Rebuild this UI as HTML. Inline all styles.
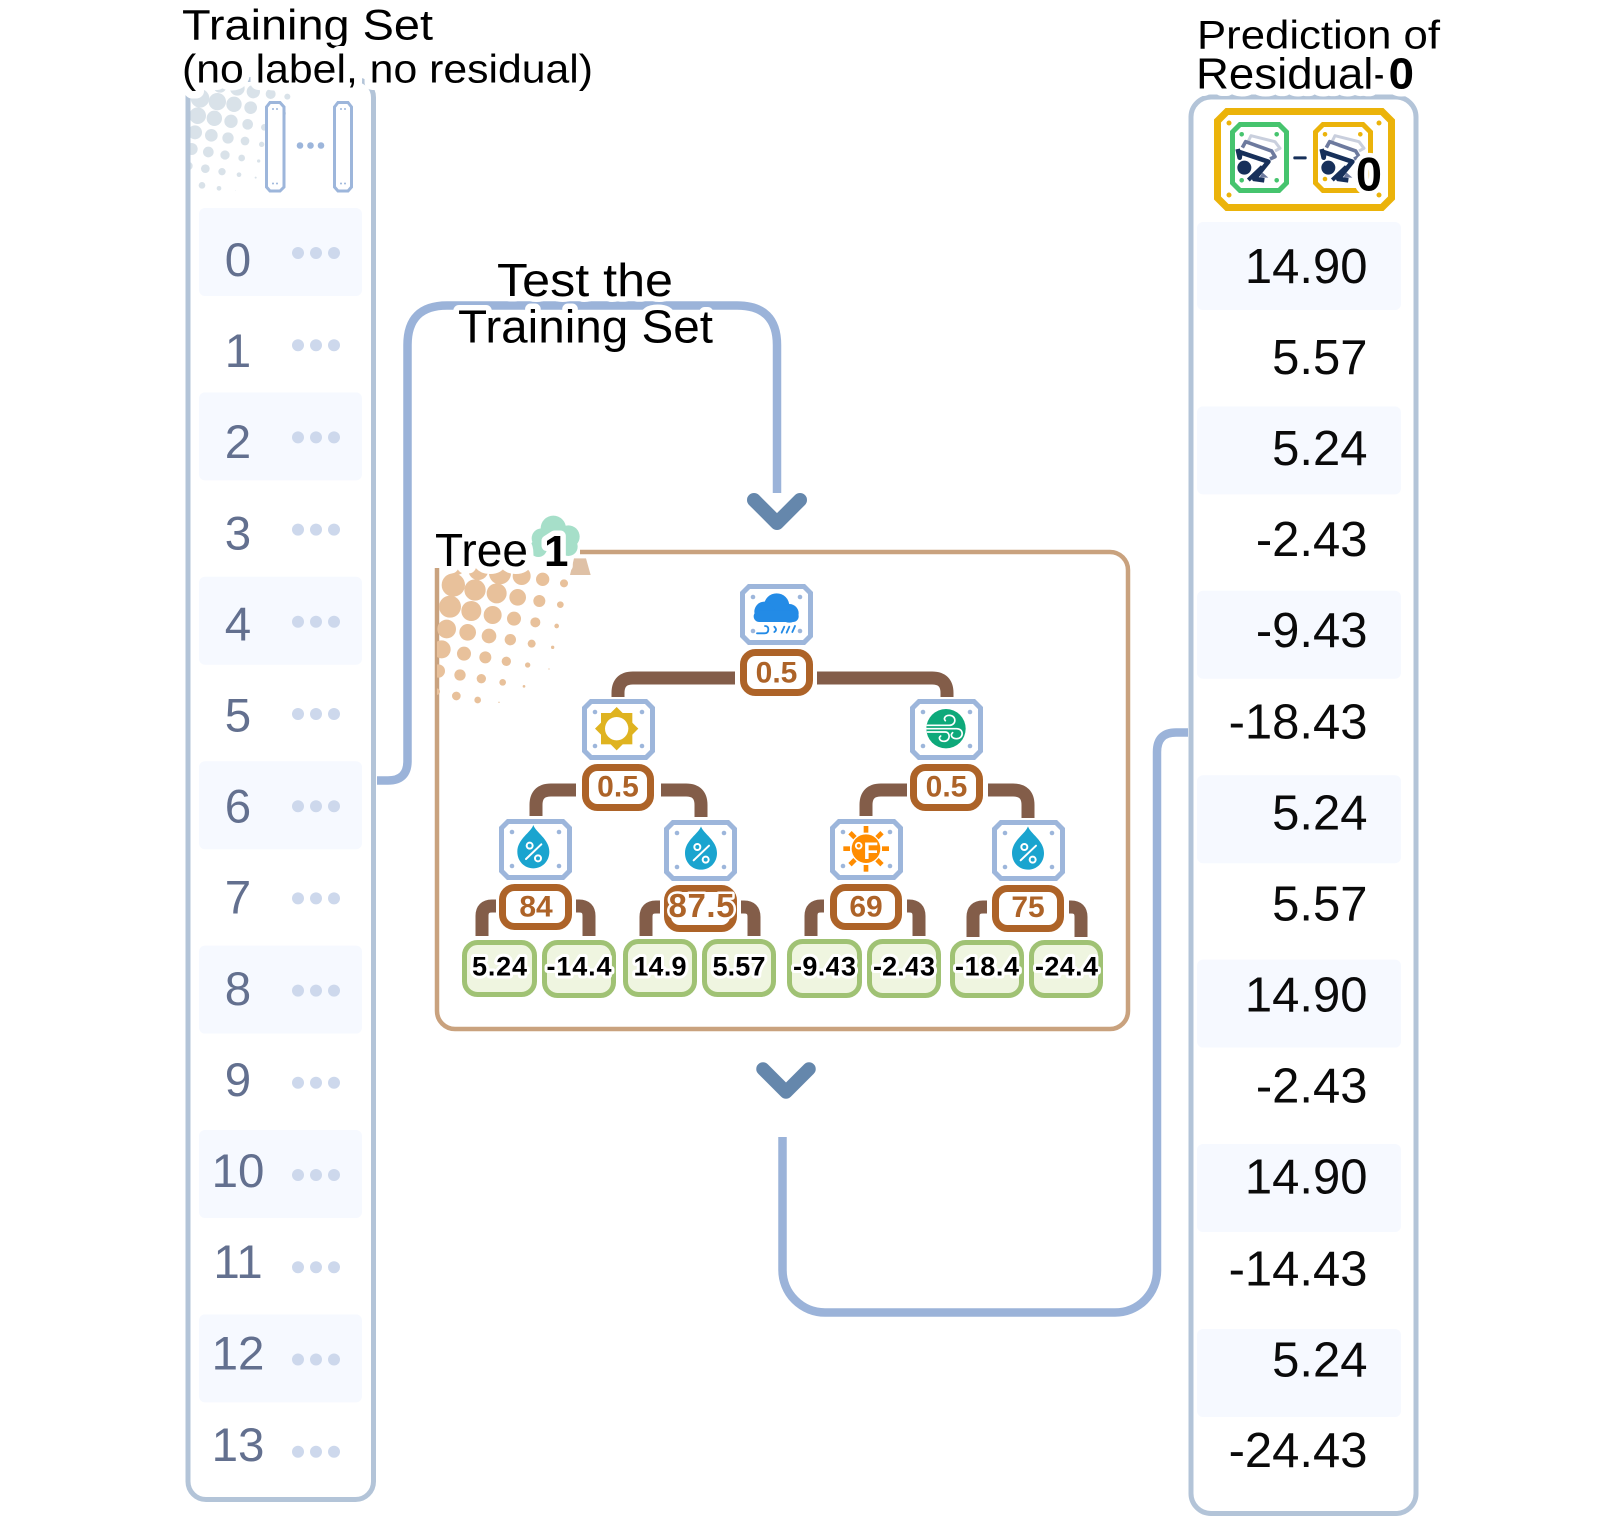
<!DOCTYPE html>
<html><head><meta charset="utf-8"><style>
html,body{margin:0;padding:0;background:#fff}
svg{display:block}
text{font-family:"Liberation Sans",sans-serif}
.h{fill:#000;paint-order:stroke;stroke:#fff;stroke-width:11px;stroke-linejoin:round}
.w{stroke-width:15px}
.n{font-size:47.5px;fill:#63708f;text-anchor:middle}
.r{font-size:49px;fill:#0a0a0a;text-anchor:end}
.t{font-weight:700;fill:#ad6328;text-anchor:middle;font-size:30px}
.l{font-weight:700;fill:#000;font-size:27px;text-anchor:middle;paint-order:stroke;stroke:#fff;stroke-width:6px;stroke-linejoin:round}
.bx{fill:#fff;stroke:#ad6328;stroke-width:7}
.lf{fill:#eff5e0;stroke:#a0c274;stroke-width:5}
.c{fill:none;stroke:#835d49;stroke-width:13}
</style></head><body>
<svg xmlns="http://www.w3.org/2000/svg" width="1620" height="1517" viewBox="0 0 1620 1517">
<defs>
<g id="ib"><polygon points="9,2.5 64,2.5 70.5,9 70.5,52 64,58.5 9,58.5 2.5,52 2.5,9" fill="#fff" stroke="#9db6db" stroke-width="5"/><g fill="#9db6db"><circle cx="13" cy="13" r="2.3"/><circle cx="60" cy="13" r="2.3"/><circle cx="13" cy="47" r="2.3"/><circle cx="60" cy="47" r="2.3"/></g></g>
<g id="drop"><path d="M48,0 C55,22 96,42 96,80 C96,110 74,130 48,130 C22,130 0,110 0,80 C0,42 41,22 48,0Z" fill="#1aa4cf"/><g fill="none" stroke="#fff" stroke-width="6"><circle cx="37" cy="62" r="9"/><circle cx="62" cy="100" r="9"/><path d="M26,102 L72,58" stroke-linecap="round"/></g></g>
<g id="logo"><g fill="none" stroke-linejoin="round">
<path d="M70,78 L78,62 L150,80 L165,100 L150,108" stroke="#c9cfdd" stroke-width="9"/>
<path d="M90,92 L130,104" stroke="#d5dae6" stroke-width="9"/>
<path d="M52,98 L62,80 L140,108 L150,125 L135,132" stroke="#6d7a9e" stroke-width="11"/>
<path d="M85,125 L112,134" stroke="#6d7a9e" stroke-width="9"/>
<path d="M38,102 L44,128 L46,112 L130,140 L88,192 L118,196" stroke="#17305a" stroke-width="14"/>
<path d="M70,195 L112,155" stroke="#17305a" stroke-width="12"/></g>
<circle cx="58" cy="158" r="21" fill="#17305a"/><path d="M112,172 L130,188 L104,188Z" fill="#6d7a9e"/></g>
<g id="dots"><circle cx="298" cy="0" r="6"/><circle cx="316" cy="0" r="6"/><circle cx="334" cy="0" r="6"/></g>
<clipPath id="oc"><rect x="437" y="540" width="200" height="200"/></clipPath>
</defs>

<!-- left panel rows -->
<g fill="#f6f9ff">
<rect x="199" y="208" width="163" height="88" rx="6"/><rect x="199" y="392.4" width="163" height="88" rx="6"/><rect x="199" y="576.8" width="163" height="88" rx="6"/><rect x="199" y="761.2" width="163" height="88" rx="6"/><rect x="199" y="945.6" width="163" height="88" rx="6"/><rect x="199" y="1130" width="163" height="88" rx="6"/><rect x="199" y="1314.4" width="163" height="88" rx="6"/>
</g>
<rect x="188" y="79.5" width="185.5" height="1420" rx="18" fill="none" stroke="#b3c4d8" stroke-width="5"/>

<!-- gray halftone -->
<g transform="translate(160,0) scale(.33333)" fill="#d9e2e9">
<circle cx="120" cy="295" r="28"/><circle cx="172" cy="305" r="26"/><circle cx="222" cy="313" r="23"/><circle cx="272" cy="323" r="19"/><circle cx="332" cy="282" r="15"/><circle cx="382" cy="290" r="9"/><circle cx="280" cy="275" r="20"/><circle cx="232" cy="265" r="22"/><circle cx="180" cy="258" r="20"/><circle cx="113" cy="347" r="25"/><circle cx="163" cy="355" r="23"/><circle cx="213" cy="364" r="20"/><circle cx="263" cy="373" r="16"/><circle cx="313" cy="382" r="10"/><circle cx="372" cy="340" r="6"/><circle cx="105" cy="397" r="21"/><circle cx="154" cy="406" r="19"/><circle cx="204" cy="414" r="17"/><circle cx="255" cy="423" r="13"/><circle cx="305" cy="433" r="8"/><circle cx="95" cy="447" r="18"/><circle cx="145" cy="456" r="16"/><circle cx="195" cy="465" r="14"/><circle cx="245" cy="474" r="10"/><circle cx="296" cy="483" r="5"/><circle cx="85" cy="498" r="13"/><circle cx="136" cy="506" r="13"/><circle cx="186" cy="515" r="11"/><circle cx="237" cy="524" r="7"/><circle cx="287" cy="533" r="3"/><circle cx="126" cy="556" r="10"/><circle cx="177" cy="565" r="7"/><circle cx="227" cy="572" r="1"/>
</g>
<rect x="185.5" y="92" width="5" height="120" fill="#b3c4d8"/>
<rect x="160" y="85" width="25.5" height="120" fill="#fff"/>

<!-- header columns -->
<g fill="#fff" stroke="#9db6db" stroke-width="3">
<polygon points="270,102.5 280,102.5 284,107 284,187 280,191 270,191 266.5,187 266.5,107"/>
<polygon points="338,102.5 348,102.5 351.5,107 351.5,187 348,191 338,191 334.5,187 334.5,107"/>
</g>
<g fill="#9db6db"><circle cx="300" cy="145.5" r="3.3"/><circle cx="310.5" cy="145.5" r="3.3"/><circle cx="321" cy="145.5" r="3.3"/>
<circle cx="273" cy="109" r="1"/><circle cx="277" cy="109" r="1"/><circle cx="273" cy="183.5" r="1"/><circle cx="277" cy="183.5" r="1"/><circle cx="341" cy="109" r="1"/><circle cx="345" cy="109" r="1"/><circle cx="341" cy="183.5" r="1"/><circle cx="345" cy="183.5" r="1"/></g>

<!-- left dots & numbers -->
<g fill="#cdd8ec">
<use href="#dots" y="253"/><use href="#dots" y="345.2"/><use href="#dots" y="437.4"/><use href="#dots" y="529.6"/><use href="#dots" y="621.8"/><use href="#dots" y="714"/><use href="#dots" y="806.2"/><use href="#dots" y="898.4"/><use href="#dots" y="990.6"/><use href="#dots" y="1082.8"/><use href="#dots" y="1175"/><use href="#dots" y="1267.2"/><use href="#dots" y="1359.5"/><use href="#dots" y="1451.7"/>
</g>
<text class="n" x="238" y="276">0</text><text class="n" x="238" y="367">1</text><text class="n" x="238" y="458.2">2</text><text class="n" x="238" y="549.3">3</text><text class="n" x="238" y="640.4">4</text><text class="n" x="238" y="731.5">5</text><text class="n" x="238" y="822.6">6</text><text class="n" x="238" y="913.7">7</text><text class="n" x="238" y="1004.8">8</text><text class="n" x="238" y="1095.9">9</text><text class="n" x="238" y="1187">10</text><text class="n" x="238" y="1278">11</text><text class="n" x="238" y="1369.5">12</text><text class="n" x="238" y="1461">13</text>

<!-- titles left -->
<text class="h" x="182" y="39.5" font-size="43" textLength="251" lengthAdjust="spacingAndGlyphs">Training Set</text>
<text class="h w" x="182" y="82.7" font-size="40" textLength="411" lengthAdjust="spacingAndGlyphs">(no label, no residual)</text>

<!-- right panel -->
<g fill="#f6f9ff">
<rect x="1197" y="222" width="204" height="88" rx="6"/><rect x="1197" y="406.4" width="204" height="88" rx="6"/><rect x="1197" y="590.8" width="204" height="88" rx="6"/><rect x="1197" y="775.2" width="204" height="88" rx="6"/><rect x="1197" y="959.6" width="204" height="88" rx="6"/><rect x="1197" y="1144" width="204" height="88" rx="6"/><rect x="1197" y="1329" width="204" height="88" rx="6"/>
</g>
<rect x="1191" y="97" width="225" height="1416.5" rx="20" fill="none" stroke="#b3c4d8" stroke-width="5"/>
<text class="h" x="1197" y="48.3" font-size="40" textLength="243" lengthAdjust="spacingAndGlyphs">Prediction of</text>
<text class="h w" x="1196" y="88.5" font-size="44" textLength="218" lengthAdjust="spacingAndGlyphs">Residual-<tspan font-weight="700">0</tspan></text>

<text class="r" x="1367.5" y="283">14.90</text><text class="r" x="1367.5" y="374">5.57</text><text class="r" x="1367.5" y="465.1">5.24</text><text class="r" x="1367.5" y="556.2">-2.43</text><text class="r" x="1367.5" y="647.2">-9.43</text><text class="r" x="1367.5" y="738.3">-18.43</text><text class="r" x="1367.5" y="829.3">5.24</text><text class="r" x="1367.5" y="920.4">5.57</text><text class="r" x="1367.5" y="1011.4">14.90</text><text class="r" x="1367.5" y="1102.5">-2.43</text><text class="r" x="1367.5" y="1193.5">14.90</text><text class="r" x="1367.5" y="1285.5">-14.43</text><text class="r" x="1367.5" y="1376.5">5.24</text><text class="r" x="1367.5" y="1467">-24.43</text>

<!-- residual icon -->
<polygon points="1227,111.5 1382,111.5 1391.5,121 1391.5,198 1382,207.5 1227,207.5 1217.5,198 1217.5,121" fill="#fff" stroke="#ebb30a" stroke-width="7"/>
<g fill="#ebb30a"><circle cx="1229" cy="123" r="2.5"/><circle cx="1379" cy="123" r="2.5"/><circle cx="1229" cy="195" r="2.5"/><circle cx="1379" cy="195" r="2.5"/></g>
<polygon points="1240,124.5 1279,124.5 1286.5,132 1286.5,183 1279,190.5 1240,190.5 1232.5,183 1232.5,132" fill="#fff" stroke="#46c46e" stroke-width="5"/>
<g fill="#46c46e"><circle cx="1241.7" cy="134.3" r="2.3"/><circle cx="1276.7" cy="134.3" r="2.3"/><circle cx="1241.7" cy="180.3" r="2.3"/><circle cx="1276.7" cy="180.3" r="2.3"/></g>
<polygon points="1323,124.5 1363,124.5 1370.5,132 1370.5,183 1363,190.5 1323,190.5 1315.5,183 1315.5,132" fill="#fff" stroke="#ebb30a" stroke-width="5"/>
<g fill="#ebb30a"><circle cx="1325" cy="134.3" r="2.3"/><circle cx="1360.3" cy="134.3" r="2.3"/><circle cx="1325" cy="179" r="2.3"/></g>
<g transform="translate(1225,115) scale(.33333)"><use href="#logo"/><use href="#logo" x="252"/><rect x="205" y="124" width="40" height="9" rx="3" fill="#17305a"/></g>
<text x="1369" y="190.7" font-size="47" font-weight="700" text-anchor="middle" fill="#000" stroke="#fff" stroke-width="9" stroke-linejoin="round" paint-order="stroke">0</text>

<!-- connectors -->
<path d="M377,780.5 H388 Q407.5,780.5 407.5,761 V345 Q407.5,305.5 447,305.5 H737 Q777,305.5 777,345 V493" fill="none" stroke="#9bb3d9" stroke-width="8.5"/>
<path d="M782.5,1137 V1270 A42.5,42.5 0 0 0 825,1312.5 H1115 A42,42 0 0 0 1157,1270.5 V752 Q1157,732.5 1176,732.5 H1188" fill="none" stroke="#9bb3d9" stroke-width="8.5"/>
<path d="M754,500 L777,523 L800,500" fill="none" stroke="#6587ac" stroke-width="14" stroke-linecap="round" stroke-linejoin="round"/>
<path d="M763,1069 L786,1092 L809,1069" fill="none" stroke="#6587ac" stroke-width="13.5" stroke-linecap="round" stroke-linejoin="round"/>
<text class="h" x="497" y="296" font-size="46" textLength="176" lengthAdjust="spacingAndGlyphs">Test the</text>
<text class="h" x="458" y="342.7" font-size="46" textLength="255" lengthAdjust="spacingAndGlyphs">Training Set</text>

<!-- tree frame -->
<path d="M580,552 H1110 A18,18 0 0 1 1128,570 V1011 A18,18 0 0 1 1110,1029 H455 A18,18 0 0 1 437,1011 V568" fill="none" stroke="#c9a27e" stroke-width="4.5"/>

<!-- orange halftone -->
<g clip-path="url(#oc)"><g transform="translate(420,490) scale(.33333)" fill="#e8c19b">
<circle cx="100" cy="285" r="35"/><circle cx="165" cy="300" r="32"/><circle cx="230" cy="310" r="30"/><circle cx="293" cy="322" r="25"/><circle cx="358" cy="333" r="18"/><circle cx="421" cy="344" r="10"/><circle cx="90" cy="350" r="33"/><circle cx="154" cy="363" r="30"/><circle cx="218" cy="375" r="27"/><circle cx="282" cy="386" r="21"/><circle cx="346" cy="397" r="15"/><circle cx="410" cy="408" r="7"/><circle cx="80" cy="417" r="28"/><circle cx="143" cy="427" r="25"/><circle cx="207" cy="438" r="22"/><circle cx="271" cy="449" r="17"/><circle cx="335" cy="461" r="12"/><circle cx="398" cy="472" r="5"/><circle cx="65" cy="478" r="27"/><circle cx="132" cy="491" r="21"/><circle cx="196" cy="502" r="18"/><circle cx="259" cy="514" r="14"/><circle cx="323" cy="525" r="8"/><circle cx="387" cy="537" r="2"/><circle cx="55" cy="543" r="20"/><circle cx="120" cy="555" r="17"/><circle cx="184" cy="566" r="14"/><circle cx="248" cy="577" r="10"/><circle cx="312" cy="589" r="4"/><circle cx="50" cy="605" r="10"/><circle cx="109" cy="618" r="13"/><circle cx="173" cy="630" r="10"/><circle cx="237" cy="637" r="2"/><circle cx="240" cy="250" r="33"/><circle cx="305" cy="258" r="27"/><circle cx="368" cy="268" r="20"/><circle cx="432" cy="280" r="12"/><circle cx="175" cy="240" r="30"/><circle cx="110" cy="230" r="25"/>
</g></g>

<!-- tree mini icon -->
<g transform="translate(420,490) scale(.33333)">
<g fill="#a6dfc9"><circle cx="400" cy="115" r="38"/><circle cx="365" cy="145" r="30"/><circle cx="445" cy="140" r="34"/><circle cx="355" cy="175" r="26"/><circle cx="445" cy="170" r="28"/></g>
<path d="M462,205 L498,205 L512,255 L450,255Z" fill="#dfc1a6"/>
</g>
<text class="h w" x="435" y="566" font-size="46" textLength="93" lengthAdjust="spacingAndGlyphs">Tree</text>
<text class="h" x="544" y="566" font-size="44" font-weight="700">1</text>

<!-- brown connectors -->
<path class="c" d="M735,678 H633 Q618,678 618,693 V697"/>
<path class="c" d="M817,678 H932 Q947,678 947,693 V697"/>
<path class="c" d="M576,790 H551 Q536,790 536,805 V816"/>
<path class="c" d="M661,790 H686 Q701,790 701,805 V817"/>
<path class="c" d="M907,790 H881 Q866,790 866,805 V816"/>
<path class="c" d="M988,790 H1013 Q1028,790 1028,805 V818"/>
<path class="c" d="M496,906 H492 Q482,906 482,916 V936"/>
<path class="c" d="M576,906 H579 Q589,906 589,916 V936"/>
<path class="c" d="M660,907 H656 Q646,907 646,917 V936"/>
<path class="c" d="M741,907 H744 Q754,907 754,917 V936"/>
<path class="c" d="M824,906 H821 Q811,906 811,916 V936"/>
<path class="c" d="M907,906 H909 Q919,906 919,916 V936"/>
<path class="c" d="M987,907 H983 Q973,907 973,917 V937"/>
<path class="c" d="M1069,907 H1071 Q1081,907 1081,917 V937"/>

<!-- decision icons -->
<use href="#ib" x="740" y="584"/><use href="#ib" x="582" y="699"/><use href="#ib" x="910" y="699"/><use href="#ib" x="499" y="819"/><use href="#ib" x="664" y="820"/><use href="#ib" x="830" y="819"/><use href="#ib" x="992" y="820"/>

<!-- threshold boxes -->
<rect class="bx" x="743.5" y="652.5" width="66" height="40" rx="12"/>
<rect class="bx" x="585.5" y="767.5" width="65" height="40" rx="12"/>
<rect class="bx" x="913.5" y="767.5" width="66" height="40" rx="12"/>
<rect class="bx" x="502.5" y="887.5" width="66" height="39" rx="12"/>
<rect class="bx" x="667.5" y="888.5" width="66" height="40" rx="12"/>
<rect class="bx" x="833.5" y="887.5" width="65" height="39" rx="12"/>
<rect class="bx" x="995.5" y="888.5" width="65" height="40" rx="12"/>
<text class="t" x="776.5" y="682.5">0.5</text><text class="t" x="618" y="796.5">0.5</text><text class="t" x="946.5" y="796.5">0.5</text>
<text class="t" x="536" y="916.5">84</text>
<text class="t" x="701.5" y="917" style="font-size:33px" stroke="#fff" stroke-width="5" paint-order="stroke" stroke-linejoin="round" textLength="66">87.5</text>
<text class="t" x="866" y="916.5">69</text><text class="t" x="1028" y="917">75</text>

<!-- cloud -->
<g transform="translate(735,580) scale(.33333)">
<g fill="#238be6"><circle cx="125" cy="78" r="38"/><circle cx="88" cy="95" r="30"/><circle cx="163" cy="100" r="28"/><rect x="56" y="92" width="135" height="34" rx="17"/></g>
<g fill="none" stroke="#238be6" stroke-width="5.5" stroke-linecap="round"><path d="M66,160 H88 Q100,160 100,148 Q100,138 90,138"/><path d="M118,156 Q128,150 118,140"/><path d="M140,158 L148,140"/><path d="M155,158 L163,140"/><path d="M172,156 L180,138"/></g>
</g>
<!-- sun -->
<g transform="translate(420,490) scale(.33333)"><rect x="543" y="669" width="94" height="94" fill="#dfb320"/><polygon points="590,651 655,716 590,781 525,716" fill="#dfb320"/><circle cx="590" cy="716" r="35" fill="#fff"/></g>
<!-- wind -->
<g transform="translate(780,570) scale(.33333)"><circle cx="498" cy="476" r="59" fill="#0ea97a"/><g fill="none" stroke="#fff" stroke-width="5" stroke-linecap="round"><path d="M442,466 H508 C530,466 530,436 508,436 C495,436 490,446 496,452"/><path d="M440,476 H530 C552,476 552,506 530,506 C515,506 510,495 518,488"/><path d="M442,486 H496 C512,486 512,514 492,514 C480,514 474,504 482,498"/></g></g>
<!-- drops -->
<g transform="translate(430,790) scale(.33333)"><use href="#drop" transform="translate(262,105)"/><use href="#drop" transform="translate(765,109)"/></g>
<g transform="translate(780,790) scale(.33333)"><use href="#drop" transform="translate(696,109)"/></g>
<!-- thermo sun -->
<g transform="translate(780,790) scale(.33333)">
<circle cx="258" cy="176" r="43" fill="#ff8c00"/>
<g stroke="#ff8c00" stroke-width="14"><path d="M258,108 V128"/><path d="M258,225 V245"/><path d="M190,176 H210"/><path d="M306,176 H327"/><path d="M210,128 L225,143"/><path d="M306,128 L291,143"/><path d="M210,224 L225,209"/><path d="M306,224 L291,209"/></g>
</g>
<text x="866" y="859" text-anchor="middle" font-size="24" font-weight="700" fill="#fff">°F</text>

<!-- leaves -->
<rect class="lf" x="464.5" y="942.5" width="70" height="52" rx="13"/><rect class="lf" x="544.5" y="942.5" width="69" height="53" rx="13"/><rect class="lf" x="625.5" y="941.5" width="69" height="53" rx="13"/><rect class="lf" x="704.5" y="941.5" width="69" height="53" rx="13"/><rect class="lf" x="789.5" y="941.5" width="70" height="54" rx="13"/><rect class="lf" x="869.5" y="941.5" width="69" height="54" rx="13"/><rect class="lf" x="952.5" y="942.5" width="69" height="53" rx="13"/><rect class="lf" x="1031.5" y="942.5" width="69" height="53" rx="13"/>
<text class="l" x="499.5" y="975.7" textLength="55">5.24</text><text class="l" x="579" y="975.7" textLength="65">-14.4</text><text class="l" x="660" y="975.7" textLength="53">14.9</text><text class="l" x="739" y="975.7" textLength="53">5.57</text><text class="l" x="824.5" y="975.7" textLength="63">-9.43</text><text class="l" x="904" y="975.7" textLength="62">-2.43</text><text class="l" x="987" y="975.7" textLength="64">-18.4</text><text class="l" x="1066.5" y="975.7" textLength="63">-24.4</text>
</svg>
</body></html>
